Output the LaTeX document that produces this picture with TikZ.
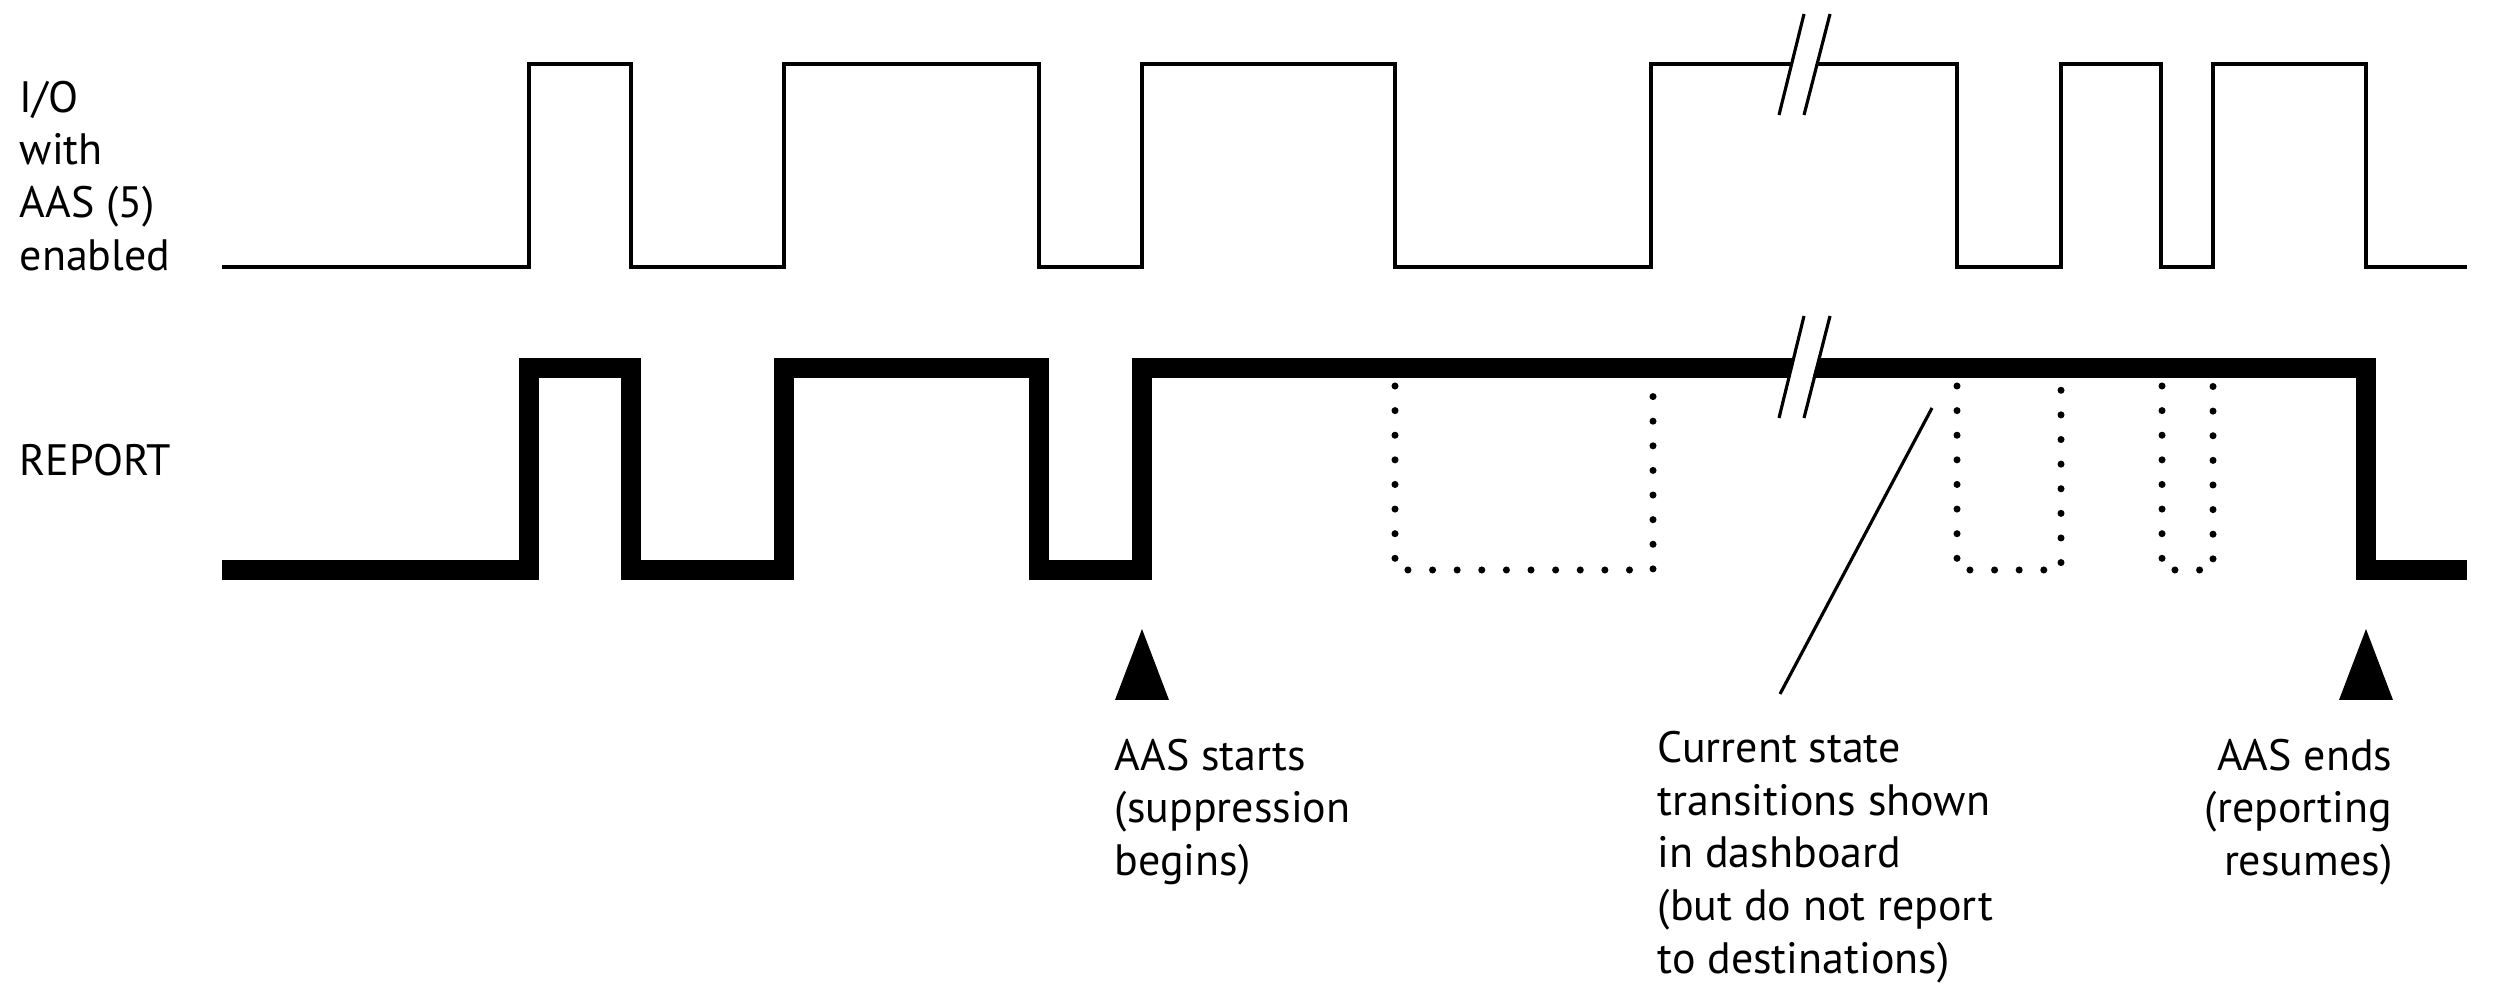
\documentclass[tikz,border=0pt]{standalone}
\usepackage{fontspec}
\setmainfont{PT Sans}
\begin{document}
\begin{tikzpicture}[x=0.01cm, y=-0.01cm,
    lbl/.style={inner sep=0pt, font=\fontsize{12.5}{15}\selectfont},
    io/.style={black, line width=0.9pt},
    rep/.style={black, line width=5.7pt, line join=miter},
    ghost/.style={black, line width=2pt, line cap=round, dash pattern=on 0pt off 7pt},
    tick/.style={black, line width=0.9pt}]
    \useasboundingbox (0, 0) rectangle (2496, 998);

    % signal labels
    \node[lbl, anchor=west, align=left] (iolbl) at (19, 176) {I/O\\with\\AAS (5)\\enabled};
    \node[lbl, anchor=west] (replbl) at (19, 460) {REPORT};

    % I/O line
    \draw[io] (222, 267) -- (529, 267) -- (529, 64) -- (631, 64) -- (631, 267) -- (784, 267) -- (784, 64)
        -- (1039, 64) -- (1039, 267) -- (1142, 267) -- (1142, 64) -- (1395, 64) -- (1395, 267)
        -- (1651, 267) -- (1651, 64) -- (1957, 64) -- (1957, 267) -- (2061, 267) -- (2061, 64)
        -- (2161, 64) -- (2161, 267) -- (2213, 267) -- (2213, 64) -- (2366, 64) -- (2366, 267) -- (2467, 267);

    % REPORT line
    \draw[rep] (222, 570) -- (529, 570) -- (529, 368) -- (631, 368) -- (631, 570) -- (784, 570) -- (784, 368)
        -- (1039, 368) -- (1039, 570) -- (1142, 570) -- (1142, 368) -- (2366, 368) -- (2366, 570) -- (2467, 570);

    % suppressed transitions
    \draw[ghost] (1395, 386) -- (1395, 570) -- (1653, 570) -- (1653, 386);
    \draw[ghost] (1957, 386) -- (1957, 570) -- (2061, 570) -- (2061, 386);
    \draw[ghost] (2162, 386) -- (2162, 570) -- (2213, 570) -- (2213, 386);

    % time breaks
    \fill[white] (1781, 105) -- (1804, 24) -- (1827, 24) -- (1804, 105) -- cycle;
    \draw[tick] (1779, 115) -- (1804, 14);
    \draw[tick] (1804, 115) -- (1830, 14);
    \fill[white] (1781, 408) -- (1804, 326) -- (1827, 326) -- (1804, 408) -- cycle;
    \draw[tick] (1779, 418) -- (1804, 316);
    \draw[tick] (1804, 418) -- (1830, 316);

    % markers
    \fill (1142, 629) -- (1169, 700) -- (1115, 700) -- cycle;
    \fill (2366, 629) -- (2393, 700) -- (2339, 700) -- cycle;

    % notes
    \node[lbl, anchor=west, align=left] (startlbl) at (1114, 812) {AAS starts\\(suppression\\begins)};
    \node[lbl, anchor=west, align=left] (dashlbl) at (1657, 857) {Current state\\transitions shown\\in dashboard\\(but do not report\\to destinations)};
    \node[lbl, anchor=east, align=right] (endlbl) at (2393, 812) {AAS ends\\(reporting\\resumes)};

    \coordinate (ptrtop) at (1932, 408);
    \coordinate (ptrbot) at (1780, 694);
    \draw[tick] (ptrtop) -- (ptrbot);
\end{tikzpicture}
\end{document}
